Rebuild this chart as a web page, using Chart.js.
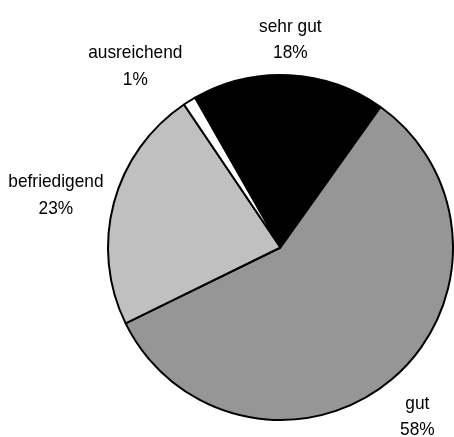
<!DOCTYPE html>
<html>
<head>
<meta charset="utf-8">
<script src="https://cdn.jsdelivr.net/npm/chart.js@4/dist/chart.umd.min.js"></script>
<style>
  html, body { margin: 0; padding: 0; background: #ffffff; }
  #wrap { width: 454px; height: 437px; }
</style>
</head>
<body>
<div id="wrap"><canvas id="c" width="454" height="437"></canvas></div>
<script>
// ---- data ----
const categories = ["sehr gut", "gut", "befriedigend", "ausreichend"];
const values = [18.1, 57.9, 22.8, 1.2];
const sliceColors = ["#000000", "#969696", "#c0c0c0", "#ffffff"];

// label placement (relative to the slice's middle angle): angle tweak in degrees, distance from centre
const labelPlacement = [
  { dAngle: -0.2, dist: 210 },
  { dAngle: 1.0, dist: 216 },
  { dAngle: -1.4, dist: 231 },
  { dAngle: -6.5, dist: 234 }
];

const outsideLabels = {
  id: "outsideLabels",
  afterDatasetsDraw(chart) {
    const ctx = chart.ctx;
    const meta = chart.getDatasetMeta(0);
    const total = values.reduce((a, b) => a + b, 0);
    ctx.save();
    ctx.fillStyle = "#000000";
    ctx.font = "19px 'Liberation Sans', Arial, sans-serif";
    ctx.textAlign = "center";
    ctx.textBaseline = "alphabetic";
    meta.data.forEach((arc, i) => {
      const p = arc.getProps(["x", "y", "startAngle", "endAngle", "outerRadius"], true);
      const mid = (p.startAngle + p.endAngle) / 2 + labelPlacement[i].dAngle * Math.PI / 180;
      const cx = p.x + Math.cos(mid) * labelPlacement[i].dist;
      const cy = p.y + Math.sin(mid) * labelPlacement[i].dist;
      const pct = Math.round(values[i] / total * 100) + "%";
      const lines = [categories[i], pct];
      const lh = 26.5;
      const b1 = cy - 6;
      lines.forEach((t, k) => {
        ctx.save();
        ctx.translate(cx, b1 + k * lh);
        ctx.scale(0.91, 1);
        ctx.fillText(t, 0, 0);
        ctx.restore();
      });
    });
    ctx.restore();
  }
};

new Chart(document.getElementById("c"), {
  type: "pie",
  data: {
    labels: categories,
    datasets: [{
      data: values,
      backgroundColor: sliceColors,
      borderColor: "#000000",
      borderWidth: 2
    }]
  },
  options: {
    responsive: false,
    devicePixelRatio: 1,
    animation: false,
    rotation: -29.7,
    radius: 172.5,
    layout: { padding: { left: 107, right: 0, top: 58, bottom: 0 } },
    plugins: {
      legend: { display: false },
      tooltip: { enabled: false }
    }
  },
  plugins: [outsideLabels]
});
</script>
</body>
</html>
